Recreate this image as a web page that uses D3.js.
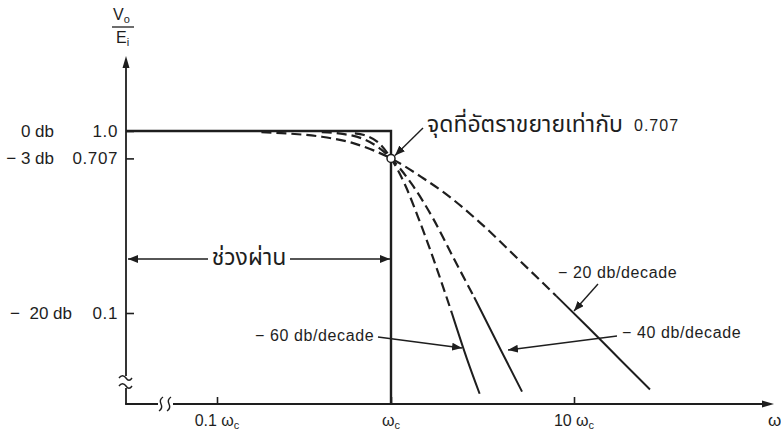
<!DOCTYPE html>
<html><head><meta charset="utf-8">
<script src="https://cdn.jsdelivr.net/npm/d3@7"></script>
<style>
html,body{margin:0;padding:0;background:#fff}
svg{display:block}
text{font-family:"Liberation Sans",Arial,"Noto Sans Thai","Loma","Garuda",sans-serif;fill:#1e1e1e}
</style>
</head><body>
<svg id="c" width="781" height="434"></svg>
<script>
// ---------------- data ----------------
const yTicks = [1.0, 0.707, 0.1];
const yTickLabels = ["1.0", "0.707", "0.1"];
const dbLabels = ["0 db", "−\u00a03 db", "−\u00a0\u00a020 db"];
const xTicks = [0.1, 1, 10];
const xTickLabels = ["0.1 ", "", "10 "];
const slopeLabels = ["− 20 db/decade", "− 40 db/decade", "− 60 db/decade"];
// response curves: [ω/ωc, Vo/Ei]
const curve20 = [[0.18,0.985],[0.25,0.97],[0.4,0.93],[0.6,0.86],[0.8,0.78],[1,0.707],[1.5,0.55],[2,0.45],[3,0.32],[5,0.196],[8,0.124],[12,0.083],[18,0.055],[26,0.038]];
const curve40 = [[0.4,0.987],[0.5,0.97],[0.7,0.90],[0.85,0.81],[1,0.707],[1.3,0.51],[1.7,0.33],[2.2,0.2],[2.85,0.122],[4,0.062],[5.2,0.037]];
const curve60 = [[0.62,0.97],[0.7,0.95],[0.85,0.86],[1,0.707],[1.2,0.5],[1.4,0.34],[1.7,0.2],[2.15,0.1],[2.6,0.056],[3.05,0.036]];
const solidFrom = [8, 2.85, 2.15];
const ideal = [[0.02,1],[1,1],[1,0.03]];
const cornerPoint = [1, 0.707];

// ---------------- scales ----------------
const svg = d3.select("#c");
const ink = "#1e1e1e";
const x = d3.scaleLog().domain([0.1, 1, 10]).range([217, 391, 574]);
const y = d3.scaleLog().domain([1, 0.1]).range([131, 313]);
const axisX0 = 126, axisY0 = 404;

const defs = svg.append("defs");
defs.append("marker").attr("id","ah").attr("viewBox","0 0 10 8")
  .attr("refX",10).attr("refY",4).attr("markerWidth",10).attr("markerHeight",8)
  .attr("markerUnits","userSpaceOnUse").attr("orient","auto")
  .append("path").attr("d","M0,0 L10,4 L0,8 Z").attr("fill",ink);

// ---------------- axes lines ----------------
const g = svg.append("g").attr("stroke", ink).attr("fill","none");
g.append("line").attr("x1",axisX0).attr("y1",66).attr("x2",axisX0).attr("y2",376).attr("stroke-width",1.8);
g.append("line").attr("x1",axisX0).attr("y1",388).attr("x2",axisX0).attr("y2",axisY0).attr("stroke-width",1.8);
svg.append("path").attr("d",`M${axisX0},56 L${axisX0-3.5},68 L${axisX0+3.5},68 Z`).attr("fill",ink);
[378, 386].forEach(yy=>{
  g.append("path").attr("d",`M${axisX0-7},${yy} C${axisX0-5},${yy-3} ${axisX0-2},${yy-3} ${axisX0},${yy} S${axisX0+4},${yy+3} ${axisX0+6},${yy}`).attr("stroke-width",1.4);
});
g.append("line").attr("x1",axisX0-0.9).attr("y1",axisY0).attr("x2",158).attr("y2",axisY0).attr("stroke-width",1.8);
g.append("line").attr("x1",173).attr("y1",axisY0).attr("x2",764).attr("y2",axisY0).attr("stroke-width",1.8);
svg.append("path").attr("d",`M774,${axisY0} L762,${axisY0-3.5} L762,${axisY0+3.5} Z`).attr("fill",ink);
[161, 169].forEach(xx=>{
  g.append("path").attr("d",`M${xx+2},${axisY0-7} C${xx-1},${axisY0-5} ${xx-1},${axisY0-2} ${xx},${axisY0} S${xx+1},${axisY0+5} ${xx-2},${axisY0+7}`).attr("stroke-width",1.4);
});

// y ticks via d3 axis
const yAxis = d3.axisLeft(y).tickValues(yTicks).tickSize(-8).tickPadding(8)
  .tickFormat((d,i)=>yTickLabels[i]);
const ya = svg.append("g").attr("transform",`translate(${axisX0},0)`).call(yAxis);
ya.attr("font-family",null).attr("font-size",null);
ya.select(".domain").remove();
ya.selectAll(".tick line").attr("stroke",ink).attr("stroke-width",1.6);
ya.selectAll(".tick text").attr("font-size",17).attr("letter-spacing",0.6).attr("fill",ink);

// dB labels
const dbX = [54, 54, 72];
svg.selectAll("text.db").data(yTicks).enter().append("text").attr("class","db")
  .attr("x",(d,i)=>dbX[i]).attr("y",d=>y(d)).attr("dy","0.35em")
  .attr("text-anchor","end").attr("font-size",17).text((d,i)=>dbLabels[i]);

// x ticks via d3 axis
const xAxis = d3.axisBottom(x).tickValues(xTicks).tickSize(-7).tickPadding(10).tickFormat(()=>"");
const xa = svg.append("g").attr("transform",`translate(0,${axisY0})`).call(xAxis);
xa.select(".domain").remove();
xa.selectAll(".tick line").attr("stroke",ink).attr("stroke-width",1.6);
xa.selectAll(".tick text").remove();
xTicks.forEach((d,i)=>{
  const t = svg.append("text").attr("x",x(d)).attr("y",426).attr("text-anchor","middle").attr("font-size",16);
  t.append("tspan").text(xTickLabels[i] + "ω");
  t.append("tspan").attr("font-size",11).attr("dy",3).text("c");
});
svg.append("text").attr("x",768).attr("y",426).attr("font-size",17).text("ω");

// y axis title Vo / Ei
const tt = svg.append("text").attr("x",113).attr("y",20).attr("font-size",16);
tt.append("tspan").text("V"); tt.append("tspan").attr("font-size",11).attr("dy",3).text("o");
svg.append("line").attr("x1",112).attr("x2",134).attr("y1",27).attr("y2",27).attr("stroke",ink).attr("stroke-width",1.3);
const tb = svg.append("text").attr("x",116).attr("y",43).attr("font-size",16);
tb.append("tspan").text("E"); tb.append("tspan").attr("font-size",11).attr("dy",3).text("i");

// ---------------- ideal response ----------------
const lineGen = d3.line().x(d=>Math.max(axisX0, x(d[0]))).y(d=>Math.min(axisY0, y(d[1])));
svg.append("path").datum(ideal).attr("d",lineGen).attr("fill","none").attr("stroke",ink).attr("stroke-width",2.4);

// ---------------- curves ----------------
const curveGen = d3.line().x(d=>x(d[0])).y(d=>y(d[1])).curve(d3.curveMonotoneX);
[curve20, curve40, curve60].forEach((c,i)=>{
  const dashed = c.filter(p=>p[0] <= solidFrom[i]);
  const solid = c.filter(p=>p[0] >= solidFrom[i]);
  svg.append("path").datum(dashed).attr("d",curveGen).attr("fill","none").attr("stroke",ink)
    .attr("stroke-width",2.2).attr("stroke-dasharray","10,5");
  svg.append("path").datum(solid).attr("d",curveGen).attr("fill","none").attr("stroke",ink)
    .attr("stroke-width",2);
});

svg.append("circle").attr("cx",x(cornerPoint[0])).attr("cy",y(cornerPoint[1])).attr("r",4)
  .attr("fill","#fff").attr("stroke",ink).attr("stroke-width",1.5);

// ---------------- annotations ----------------
function arrow(x1,y1,x2,y2){
  svg.append("line").attr("x1",x1).attr("y1",y1).attr("x2",x2).attr("y2",y2)
    .attr("stroke",ink).attr("stroke-width",1.4).attr("marker-end","url(#ah)");
}
svg.append("text").attr("x",427).attr("y",132).attr("font-size",23).text("จุดที่อัตราขยายเท่ากับ");
svg.append("text").attr("x",634).attr("y",131).attr("font-size",16).attr("letter-spacing",1).text("0.707");
arrow(423,128,x(1)+4,y(0.707)-3);

svg.append("text").attr("x",249).attr("y",265).attr("text-anchor","middle").attr("font-size",23).text("ช่วงผ่าน");
arrow(208,259,axisX0+2,259);
arrow(290,259,x(1)-1,259);

svg.append("text").attr("x",558).attr("y",278).attr("font-size",16).attr("letter-spacing",0.6).text(slopeLabels[0]);
arrow(598,284,574,311);
svg.append("text").attr("x",622).attr("y",338).attr("font-size",16).attr("letter-spacing",0.6).text(slopeLabels[1]);
arrow(617,336,508,350);
svg.append("text").attr("x",255).attr("y",341).attr("font-size",16).attr("letter-spacing",0.6).text(slopeLabels[2]);
arrow(378,337,462,348);
</script>
</body></html>
